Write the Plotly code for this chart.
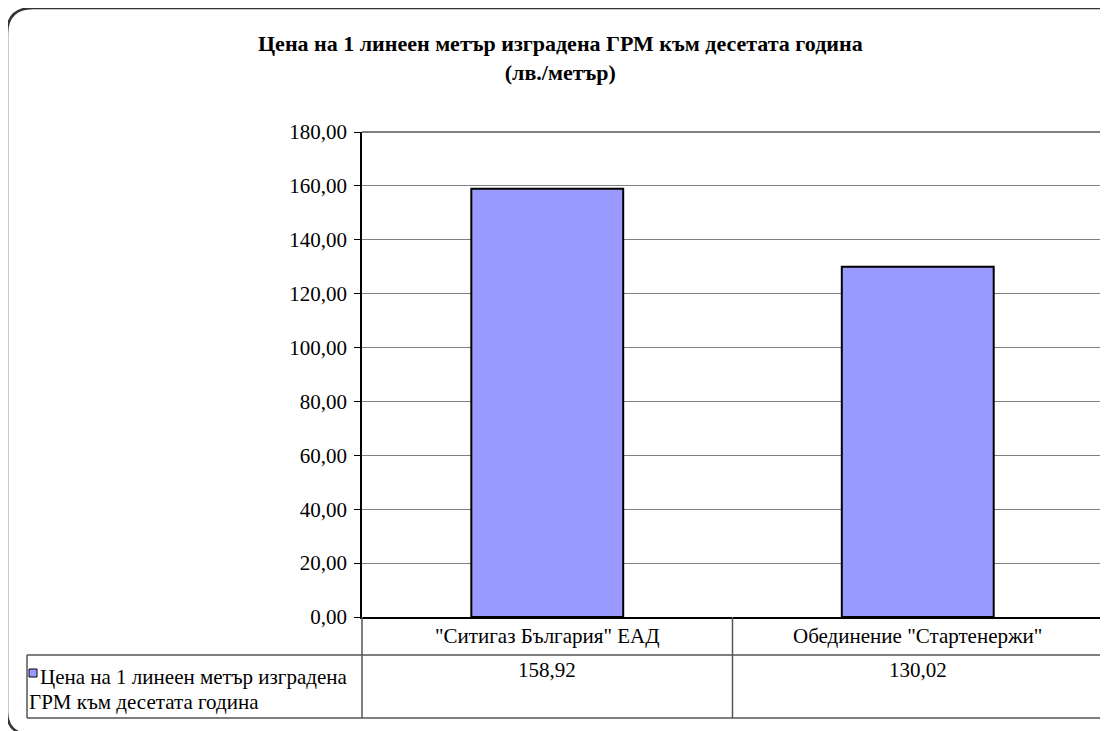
import plotly.graph_objects as go

# data
categories = ['"Ситигаз България" ЕАД', 'Обединение "Стартенержи"']
values = [158.92, 130.02]
series_name = "Цена на 1 линеен метър изградена ГРМ към десетата година"
title_lines = ["Цена на 1 линеен метър изградена ГРМ към десетата година", "(лв./метър)"]
y_ticks = [0, 20, 40, 60, 80, 100, 120, 140, 160, 180]

# page is shifted by the 8px body margin, so work in page pixels and convert
OFF = 8
W, H = 1108 - OFF, 731 - OFF
L, R, T, B = 362, 1103, 132, 617  # plot area, page pixels
FONT = "Liberation Serif"
BAR = "#9999FF"
LINE = "#555555"
FS = 21


def px(x):
    return (x - L) / (R - L)


def py(y):
    return (B - y) / (B - T)


def fmt(v):
    return f"{v:.2f}".replace(".", ",")


fig = go.Figure(go.Bar(
    x=categories,
    y=values,
    name=series_name,
    marker=dict(color=BAR, line=dict(color="black", width=2)),
    width=0.41,
    showlegend=False,
))

shapes = []
# outer rounded frame
r = 26
frame = (f"M {px(7)},{py(8 + r)} Q {px(7)},{py(8)} {px(7 + r)},{py(8)} "
         f"L {px(1100)},{py(8)} Q {px(1106)},{py(8)} {px(1108)},{py(12)} "
         f"M {px(7)},{py(8 + r)} L {px(7)},{py(712)} Q {px(7)},{py(728)} {px(20)},{py(733)}")
shapes.append(dict(type="path", xref="paper", yref="paper", path=frame,
                   line=dict(color="#333333", width=2.5)))
# plot border top/right
shapes.append(dict(type="line", xref="paper", yref="paper", x0=0, x1=1, y0=1, y1=1,
                   line=dict(color="#808080", width=2)))
shapes.append(dict(type="line", xref="paper", yref="paper", x0=1, x1=1, y0=0, y1=1,
                   line=dict(color="#808080", width=2)))

# data table grid
row1, row2 = 655, 718
col_mid = (L + R) / 2
for y in (row1, row2):
    shapes.append(dict(type="line", xref="paper", yref="paper", x0=px(27), x1=1,
                       y0=py(y), y1=py(y), line=dict(color=LINE, width=1.5)))
shapes.append(dict(type="line", xref="paper", yref="paper", x0=px(27), x1=px(27),
                   y0=py(row1), y1=py(row2), line=dict(color=LINE, width=1.5)))
for x in (L, col_mid, R):
    shapes.append(dict(type="line", xref="paper", yref="paper", x0=px(x), x1=px(x),
                       y0=py(B), y1=py(row2), line=dict(color=LINE, width=1.5)))
# legend key
shapes.append(dict(type="rect", xref="paper", yref="paper", x0=px(29), x1=px(37),
                   y0=py(677), y1=py(669), fillcolor=BAR, line=dict(color="black", width=1)))

tfont = dict(family=FONT, size=FS, color="black")
annotations = []
for i, (c, v) in enumerate(zip(categories, values)):
    cx = px(L + (R - L) * (i + 0.5) / 2)
    annotations.append(dict(x=cx, y=py(636), xref="paper", yref="paper", text=c,
                            xanchor="center", yanchor="middle", showarrow=False, font=tfont))
    annotations.append(dict(x=cx, y=py(670), xref="paper", yref="paper", text=fmt(v),
                            xanchor="center", yanchor="middle", showarrow=False, font=tfont))
words = series_name.split(" ")
annotations.append(dict(x=px(38), y=py(677), xref="paper", yref="paper", xanchor="left",
                        yanchor="middle", text=" ".join(words[:6]), showarrow=False, font=tfont))
annotations.append(dict(x=px(27), y=py(702), xref="paper", yref="paper", xanchor="left",
                        yanchor="middle", text=" ".join(words[6:]), showarrow=False, font=tfont))
# chart title (two bold lines)
annotations.append(dict(x=px(560), y=py(58), xref="paper", yref="paper", xanchor="center",
                        yanchor="middle", text="<b>" + "<br>".join(title_lines) + "</b>",
                        showarrow=False, font=dict(family=FONT, size=22, color="black")))

fig.update_layout(
    width=W, height=H,
    margin=dict(l=L - OFF, r=W - (R - OFF), t=T - OFF, b=H - (B - OFF), pad=0),
    paper_bgcolor="white", plot_bgcolor="white",
    separators=", ",
    bargap=0.59,
    shapes=shapes,
    annotations=annotations,
    font=tfont,
)
fig.update_xaxes(showticklabels=False, showgrid=False, showline=True, linecolor="black",
                 linewidth=2, ticks="")
fig.update_yaxes(range=[0, 180], tickvals=y_ticks, tickformat=".2f", showgrid=True,
                 gridcolor="#808080", gridwidth=1, showline=True, linecolor="black",
                 linewidth=1.5, ticks="outside", ticklen=6, tickcolor="black",
                 ticklabelstandoff=3, tickfont=tfont, zeroline=False)

fig.write_html("out.html")
